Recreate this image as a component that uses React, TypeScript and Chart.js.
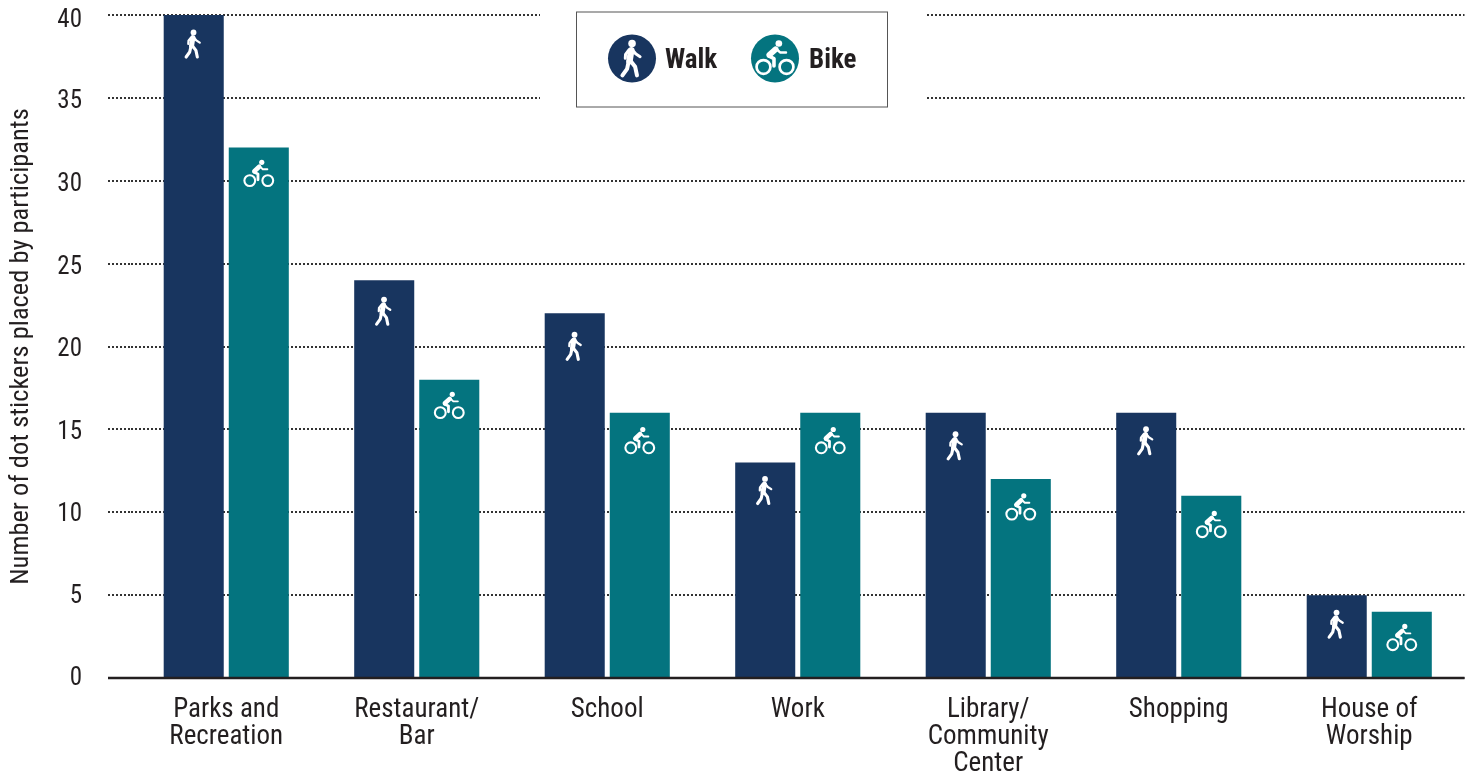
import React, { useEffect, useRef } from "react";
import { Chart, registerables } from "chart.js";

Chart.register(...registerables);

const categories = [
  ["Parks and", "Recreation"],
  ["Restaurant/", "Bar"],
  ["School"],
  ["Work"],
  ["Library/", "Community", "Center"],
  ["Shopping"],
  ["House of", "Worship"],
];
const walkValues = [40, 24, 22, 13, 16, 16, 5];
const bikeValues = [32, 18, 16, 16, 12, 11, 4];
const yTicks = [0, 5, 10, 15, 20, 25, 30, 35, 40];
const yTitle = "Number of dot stickers placed by participants";

const WALK = "#18355F";
const BIKE = "#04747F";
const INK = "#231F20";
const FAMILY = '"Roboto Condensed", Roboto, sans-serif';

// distance from the top of each bar to the middle of its icon
const walkIconDrop = [29, 31, 33, 28, 33, 28, 29];
const bikeIconDrop = [26, 26, 28, 28, 28, 29, 26];
// downward nudge of each y tick label, in tick order
const yLabelNudge = [1, 2, 2, 3, 3, 4, 4, 4, 6];

function stroke(ctx: CanvasRenderingContext2D, pts: number[][], w: number) {
  ctx.lineWidth = w;
  ctx.beginPath();
  pts.forEach((p, i) => (i ? ctx.lineTo(p[0], p[1]) : ctx.moveTo(p[0], p[1])));
  ctx.stroke();
}

function drawWalker(ctx: CanvasRenderingContext2D, x: number, y: number, s: number, color = "#fff") {
  ctx.save();
  ctx.translate(x, y);
  ctx.scale(s, s);
  ctx.strokeStyle = color;
  ctx.fillStyle = color;
  ctx.lineCap = "round";
  ctx.lineJoin = "round";
  ctx.beginPath();
  ctx.arc(0.8, -11.6, 2.9, 0, Math.PI * 2);
  ctx.fill();
  stroke(ctx, [[0.2, -6.4], [-1.2, 2]], 5);
  stroke(ctx, [[-1.6, -6.6], [-4.2, -3.2], [-4.4, -0.2]], 2.3);
  stroke(ctx, [[0.8, -7], [3.6, -3.6], [7, -1.4]], 2.3);
  stroke(ctx, [[-1.6, 1.5], [-3, 8], [-6.6, 13]], 3.1);
  stroke(ctx, [[-0.6, 1.5], [3.2, 6.4], [4.6, 13]], 3.1);
  ctx.restore();
}

function drawCyclist(ctx: CanvasRenderingContext2D, x: number, y: number, s: number, color = "#fff") {
  ctx.save();
  ctx.translate(x, y + 7 * s);
  ctx.scale(s, s);
  ctx.strokeStyle = color;
  ctx.fillStyle = color;
  ctx.lineCap = "round";
  ctx.lineJoin = "round";
  ctx.beginPath();
  ctx.arc(3, -18.3, 2.6, 0, Math.PI * 2);
  ctx.fill();
  ctx.lineWidth = 2.1;
  ctx.beginPath();
  ctx.arc(-9, 0, 5.4, 0, Math.PI * 2);
  ctx.stroke();
  ctx.beginPath();
  ctx.arc(9, 0, 5.4, 0, Math.PI * 2);
  ctx.stroke();
  stroke(ctx, [[0.4, -13.8], [-4.4, -9.4]], 4.6);
  stroke(ctx, [[-5, -8.6], [-0.8, -6.6], [-0.8, -0.8]], 2.8);
  stroke(ctx, [[1, -14.2], [4, -11.3], [8.6, -11.3]], 1.9);
  ctx.restore();
}

const labelNudgePlugin = {
  id: "labelNudge",
  beforeDraw(chart: any) {
    const scale = chart.scales.y;
    scale.getLabelItems(chart.chartArea).forEach((item: any, i: number) => {
      item.options.translation = [item.options.translation[0], item.options.translation[1] + yLabelNudge[i]];
    });
  },
};

const iconPlugin = {
  id: "barIcons",
  afterDatasetsDraw(chart: any) {
    const ctx = chart.ctx;
    chart.getDatasetMeta(0).data.forEach((bar: any, i: number) => {
      drawWalker(ctx, bar.x - 1, bar.y + walkIconDrop[i], 1);
    });
    chart.getDatasetMeta(1).data.forEach((bar: any, i: number) => {
      drawCyclist(ctx, bar.x, bar.y + bikeIconDrop[i], 1);
    });
  },
};

const frame = { left: 108 };

const finishPlugin = {
  id: "finish",
  afterDraw(chart: any) {
    const ctx = chart.ctx;
    const y0 = chart.scales.y.getPixelForValue(0);
    ctx.save();
    // baseline
    ctx.strokeStyle = INK;
    ctx.lineWidth = 2.5;
    ctx.beginPath();
    ctx.moveTo(frame.left, y0);
    ctx.lineTo(chart.chartArea.right, y0);
    ctx.stroke();
    // legend: white mask, box, keys
    ctx.fillStyle = "#fff";
    ctx.fillRect(540, 0, 385, 112);
    ctx.strokeStyle = "#555";
    ctx.lineWidth = 1;
    ctx.strokeRect(576.5, 12, 311, 95);
    ctx.fillStyle = WALK;
    ctx.beginPath();
    ctx.arc(632, 58.5, 24, 0, Math.PI * 2);
    ctx.fill();
    drawWalker(ctx, 631, 58.5, 1.3);
    ctx.fillStyle = BIKE;
    ctx.beginPath();
    ctx.arc(775, 58.5, 24, 0, Math.PI * 2);
    ctx.fill();
    drawCyclist(ctx, 775, 58, 1.28);
    ctx.fillStyle = INK;
    ctx.font = `700 27px ${FAMILY}`;
    ctx.textAlign = "left";
    ctx.textBaseline = "middle";
    ctx.fillText(chart.data.datasets[0].label, 665, 61);
    ctx.fillText(chart.data.datasets[1].label, 809, 61);
    ctx.restore();
  },
};

export default function App() {
  const ref = useRef<HTMLCanvasElement>(null);
  useEffect(() => {
    document.body.style.margin = "0";
    const canvas = ref.current!;
    const ctx = canvas.getContext("2d") as any;
    ctx.fontStretch = "condensed";
    const chart = new Chart(canvas, {
      type: "bar",
      data: {
        labels: categories,
        datasets: [
          { label: "Walk", data: walkValues, backgroundColor: WALK, categoryPercentage: 0.683, barPercentage: 0.923 },
          { label: "Bike", data: bikeValues, backgroundColor: BIKE, categoryPercentage: 0.683, barPercentage: 0.923 },
        ],
      },
      options: {
        responsive: false,
        animation: false,
        devicePixelRatio: 1,
        layout: { padding: { top: 15, right: 8.5, left: 0, bottom: 0 } },
        plugins: { legend: { display: false }, tooltip: { enabled: false }, title: { display: false } },
        scales: {
          x: {
            grid: { display: false },
            border: { display: false },
            ticks: {
              color: INK,
              font: { family: FAMILY, size: 27, lineHeight: 1.0 },
              maxRotation: 0,
              autoSkip: false,
              padding: 11,
            },
            afterFit(scale: any) {
              scale.height = 97;
            },
          },
          y: {
            min: 0,
            max: 40,
            afterBuildTicks(scale: any) {
              scale.ticks = yTicks.map((value) => ({ value }));
            },
            grid: {
              color: "#333",
              lineWidth: 2,
              tickLength: 23,
              tickColor: "#333",
              tickWidth: 2,
              tickBorderDash: [2, 2],
            },
            border: { display: false, dash: [2, 2] },
            ticks: { color: INK, font: { family: FAMILY, size: 25 }, padding: 26 },
            title: {
              display: true,
              text: yTitle,
              color: INK,
              font: { family: FAMILY, size: 26.5 },
              padding: { top: 5, bottom: 0 },
            },
            afterFit(scale: any) {
              scale.width = 131;
              scale.paddingTop = 0;
            },
          },
        },
      },
      plugins: [labelNudgePlugin, iconPlugin, finishPlugin],
    } as any);
    return () => chart.destroy();
  }, []);
  return <canvas ref={ref} width={1473} height={775} style={{ display: "block" }} />;
}
